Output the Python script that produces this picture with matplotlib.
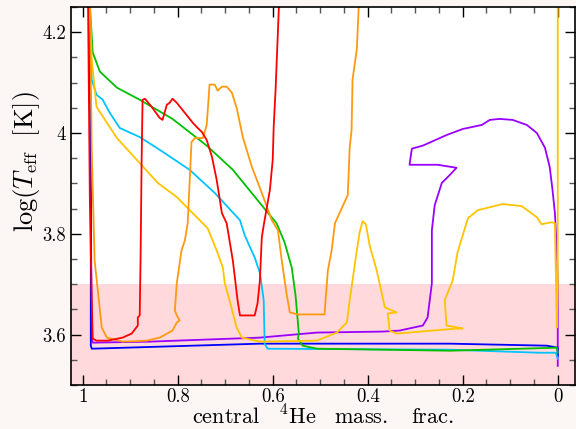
import numpy as np
import matplotlib.pyplot as plt
from matplotlib.ticker import MultipleLocator, FuncFormatter

plt.rcParams["font.family"] = "serif"
plt.rcParams["font.serif"] = ["cmr10", "DejaVu Serif"]
plt.rcParams["mathtext.fontset"] = "cm"
plt.rcParams["axes.unicode_minus"] = False

# central He4 mass fraction (x) and log Teff (y) for each track
red_x = [0.989, 0.985, 0.981, 0.979, 0.971, 0.947, 0.916, 0.897, 0.884, 0.884, 0.880, 0.878, 0.876,
         0.874, 0.869, 0.855, 0.838, 0.832, 0.823, 0.817, 0.811, 0.802, 0.785, 0.768, 0.758, 0.749,
         0.739, 0.728, 0.718, 0.707, 0.697, 0.684, 0.674, 0.669, 0.638, 0.632, 0.627, 0.623, 0.619,
         0.606, 0.600, 0.598, 0.594, 0.587, 0.585]
red_y = [4.275, 3.867, 3.668, 3.592, 3.588, 3.588, 3.594, 3.602, 3.618, 3.634, 3.638, 3.767, 3.947,
         4.066, 4.068, 4.052, 4.030, 4.026, 4.056, 4.060, 4.068, 4.060, 4.040, 4.020, 4.010, 4.002,
         3.986, 3.953, 3.907, 3.841, 3.821, 3.747, 3.668, 3.638, 3.638, 3.662, 3.708, 3.793, 3.817,
         3.887, 3.947, 4.012, 4.086, 4.251, 4.275]

orange_x = [0.985, 0.981, 0.975, 0.966, 0.960, 0.949, 0.916, 0.865, 0.838, 0.811, 0.802, 0.796,
            0.802, 0.806, 0.802, 0.792, 0.785, 0.779, 0.771, 0.764, 0.747, 0.739, 0.733, 0.722,
            0.716, 0.707, 0.697, 0.686, 0.676, 0.663, 0.644, 0.623, 0.602, 0.589, 0.581, 0.571,
            0.564, 0.547, 0.491, 0.484, 0.476, 0.469, 0.442, 0.438, 0.434, 0.432, 0.423, 0.419, 0.417]
orange_y = [4.255, 3.967, 3.747, 3.668, 3.614, 3.594, 3.586, 3.588, 3.594, 3.608, 3.624, 3.628,
            3.638, 3.648, 3.702, 3.767, 3.787, 3.821, 3.982, 3.990, 3.990, 4.016, 4.096, 4.096,
            4.084, 4.092, 4.092, 4.080, 4.050, 3.992, 3.933, 3.881, 3.827, 3.807, 3.747, 3.682,
            3.644, 3.640, 3.640, 3.727, 3.767, 3.821, 3.877, 3.971, 4.006, 4.106, 4.166, 4.251, 4.275]

yellow_x = [0.985, 0.981, 0.971, 0.928, 0.842, 0.802, 0.737, 0.718, 0.705, 0.701, 0.691, 0.676,
            0.665, 0.627, 0.507, 0.465, 0.444, 0.438, 0.423, 0.417, 0.411, 0.404, 0.396, 0.381,
            0.364, 0.339, 0.358, 0.354, 0.339, 0.213, 0.200, 0.234, 0.238, 0.221, 0.211, 0.189,
            0.168, 0.116, 0.076, 0.044, 0.034, 0.013, 0.006, 0.002, 0.0, 0.0]
yellow_y = [4.255, 4.146, 4.052, 3.990, 3.901, 3.873, 3.811, 3.767, 3.733, 3.702, 3.668, 3.614,
            3.594, 3.586, 3.588, 3.604, 3.624, 3.668, 3.767, 3.803, 3.825, 3.819, 3.777, 3.727,
            3.654, 3.644, 3.642, 3.608, 3.602, 3.612, 3.612, 3.618, 3.668, 3.708, 3.763, 3.831,
            3.847, 3.859, 3.855, 3.833, 3.819, 3.823, 3.821, 3.614, 3.700, 4.275]

green_x = [0.985, 0.979, 0.964, 0.928, 0.880, 0.811, 0.739, 0.684, 0.627, 0.592, 0.575, 0.560,
           0.552, 0.545, 0.547, 0.537, 0.507, 0.227, 0.002, 0.0]
green_y = [4.255, 4.160, 4.122, 4.090, 4.066, 4.028, 3.975, 3.927, 3.861, 3.821, 3.783, 3.733,
           3.678, 3.602, 3.592, 3.578, 3.572, 3.568, 3.574, 3.564]

cyan_x = [0.985, 0.981, 0.971, 0.958, 0.943, 0.922, 0.880, 0.832, 0.775, 0.722, 0.669, 0.659,
          0.638, 0.627, 0.621, 0.619, 0.617, 0.611, 0.227, 0.038, 0.004, 0.0]
cyan_y = [4.255, 4.106, 4.076, 4.066, 4.040, 4.010, 3.992, 3.963, 3.927, 3.881, 3.827, 3.797,
          3.753, 3.722, 3.682, 3.668, 3.582, 3.572, 3.570, 3.564, 3.564, 3.552]

blue_x = [0.987, 0.983, 0.983, 0.981, 0.627, 0.227, 0.023, 0.0, 0.0]
blue_y = [4.275, 3.867, 3.578, 3.572, 3.582, 3.582, 3.578, 3.574, 3.558]

purple_x = [0.987, 0.983, 0.981, 0.979, 0.859, 0.627, 0.507, 0.368, 0.333, 0.284, 0.274, 0.265,
            0.265, 0.259, 0.244, 0.227, 0.213, 0.253, 0.312, 0.309, 0.307, 0.284, 0.234, 0.200,
            0.160, 0.143, 0.122, 0.095, 0.065, 0.044, 0.027, 0.017, 0.011, 0.006, 0.002, 0.0, 0.0]
purple_y = [4.275, 3.867, 3.592, 3.584, 3.586, 3.594, 3.604, 3.606, 3.608, 3.618, 3.634, 3.702,
            3.807, 3.857, 3.901, 3.917, 3.931, 3.937, 3.937, 3.957, 3.969, 3.975, 3.996, 4.008,
            4.016, 4.026, 4.028, 4.026, 4.016, 4.000, 3.971, 3.933, 3.887, 3.841, 3.773, 3.708, 3.538]

tracks = [
    (purple_x, purple_y, "#9a00ff"),
    (blue_x, blue_y, "#0000ff"),
    (cyan_x, cyan_y, "#00c4ff"),
    (green_x, green_y, "#00c000"),
    (yellow_x, yellow_y, "#ffc400"),
    (orange_x, orange_y, "#ff9a10"),
    (red_x, red_y, "#ff0000"),
]

fig = plt.figure(figsize=(5.76, 4.29), dpi=100, facecolor="#fcf6f5")
ax = fig.add_axes([0.123, 0.1026, 0.875, 0.881])
ax.set_facecolor("white")

ax.axhspan(3.5, 3.7, color="#ffd9dc", zorder=0, lw=0)
for xs, ys, c in tracks:
    ax.plot(xs, ys, color=c, lw=1.3)

ax.set_xlim(1.025, -0.036)
ax.set_ylim(3.5, 4.25)

ax.xaxis.set_major_locator(MultipleLocator(0.2))
ax.xaxis.set_minor_locator(MultipleLocator(0.05))
ax.yaxis.set_major_locator(MultipleLocator(0.2))
ax.yaxis.set_minor_locator(MultipleLocator(0.05))
fmt = FuncFormatter(lambda v, p: "%g" % round(v, 3))
ax.xaxis.set_major_formatter(fmt)
ax.yaxis.set_major_formatter(fmt)
ax.tick_params(which="both", direction="in", top=True, right=True, labelsize=13.5)
ax.tick_params(which="major", length=7, width=1)
ax.tick_params(which="minor", length=4, width=1, color="#555555")
ax.tick_params(axis="x", pad=2)
for s in ax.spines.values():
    s.set_linewidth(1.2)

ax.set_xlabel(r"$\mathrm{central}\ \ \ {}^{4}\mathrm{He\ \ \ mass.\ \ \ frac.}$", fontsize=16)
ax.set_ylabel(r"$\mathrm{log}(T_{\mathrm{eff}}\ \ [\mathrm{K}])$", fontsize=19)
ax.xaxis.set_label_coords(0.5, -0.052)
ax.yaxis.set_label_coords(-0.058, 0.59)

plt.savefig("out.png", dpi=100, facecolor=fig.get_facecolor())
